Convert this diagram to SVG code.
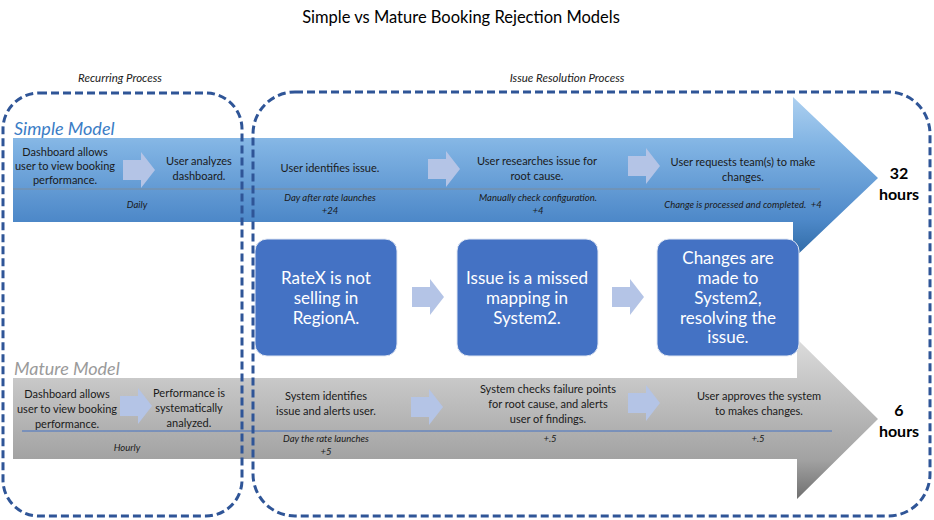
<svg xmlns="http://www.w3.org/2000/svg" xmlns:xlink="http://www.w3.org/1999/xlink" width="934" height="520" viewBox="0 0 934 520">
<style>
text{font-family:Lato,"Liberation Sans",sans-serif;fill:#1a1a1a;text-anchor:middle}
.title{font-size:16.5px;fill:#000}
.sec{font-size:11.5px;font-style:italic}
.model{font-size:18px;font-style:italic;text-anchor:start}
.t{font-size:11px}
.n{font-size:9.5px;font-style:italic}
.hrs{font-size:16px;font-weight:bold;fill:#000}
.bt{font-size:17px;fill:#fff}
.box{fill:#4472C4;stroke:#dfe6f3;stroke-width:1}
.blk{fill:#B4C4E6}
.dash{fill:none;stroke:#2F5597;stroke-width:3;stroke-dasharray:8 4}
</style>
<defs>
<linearGradient id="gBlue" gradientUnits="userSpaceOnUse" x1="0" y1="97" x2="0" y2="260">
<stop offset="0" stop-color="#ADD0F0"/>
<stop offset="0.3" stop-color="#80B3E3"/>
<stop offset="0.75" stop-color="#4E89C9"/>
<stop offset="1" stop-color="#2C67A2"/>
</linearGradient>
<linearGradient id="gGray" gradientUnits="userSpaceOnUse" x1="0" y1="339" x2="0" y2="500">
<stop offset="0" stop-color="#DCDCDC"/>
<stop offset="0.25" stop-color="#C8C8C8"/>
<stop offset="0.75" stop-color="#A2A2A2"/>
<stop offset="1" stop-color="#6E6E6E"/>
</linearGradient>
<path id="blk" d="M0,-10 H18 V-18 L32,0 L18,18 V10 H0 Z"/>
</defs>

<text class="title" x="461" y="23">Simple vs Mature Booking Rejection Models</text>
<text class="sec" x="120" y="82">Recurring Process</text>
<text class="sec" x="567" y="82">Issue Resolution Process</text>

<g id="simple-model">
<text class="model" x="14" y="135" style="fill:#3B7DC6">Simple Model</text>
<path d="M13,138 H793 V97 L878,178 L793,259 V222 H13 Z" fill="url(#gBlue)"/>
<line x1="13" y1="189" x2="820" y2="189" stroke="#7D8C9C" stroke-width="1"/>
<text class="t" x="65"><tspan x="65" y="156">Dashboard allows</tspan><tspan x="65" y="170">user to view booking</tspan><tspan x="65" y="184">performance.</tspan></text>
<text class="t" x="199"><tspan x="199" y="165">User analyzes</tspan><tspan x="199" y="180">dashboard.</tspan></text>
<text class="n" x="137" y="208">Daily</text>
<text class="t" x="330" y="172">User identifies issue.</text>
<text class="n" x="330"><tspan x="330" y="201">Day after rate launches</tspan><tspan x="330" y="214">+24</tspan></text>
<text class="t" x="537"><tspan x="537" y="165">User researches issue for</tspan><tspan x="537" y="180">root cause.</tspan></text>
<text class="n" x="538"><tspan x="538" y="201">Manually check configuration.</tspan><tspan x="538" y="214">+4</tspan></text>
<text class="t" x="743"><tspan x="743" y="166">User requests team(s) to make</tspan><tspan x="743" y="181">changes.</tspan></text>
<text class="n" x="743" y="208">Change is processed and completed.&#160; +4</text>
<text class="hrs" x="899"><tspan x="899" y="179">32</tspan><tspan x="899" y="200">hours</tspan></text>
</g>

<g id="mature-model">
<text class="model" x="14" y="375" style="fill:#9A9A9A">Mature Model</text>
<path d="M13,378 H797 V339 L878,419 L797,499 V459 H13 Z" fill="url(#gGray)"/>
<line x1="22" y1="431" x2="832" y2="431" stroke="#4472C4" stroke-width="1"/>
<text class="t" x="67"><tspan x="67" y="398">Dashboard allows</tspan><tspan x="67" y="413">user to view booking</tspan><tspan x="67" y="428">performance.</tspan></text>
<text class="t" x="189"><tspan x="189" y="397">Performance is</tspan><tspan x="189" y="412">systematically</tspan><tspan x="189" y="427">analyzed.</tspan></text>
<text class="n" x="127" y="451">Hourly</text>
<text class="t" x="326"><tspan x="326" y="400">System identifies</tspan><tspan x="326" y="415">issue and alerts user.</tspan></text>
<text class="n" x="326"><tspan x="326" y="442">Day the rate launches</tspan><tspan x="326" y="455">+5</tspan></text>
<text class="t" x="548"><tspan x="548" y="393">System checks failure points</tspan><tspan x="548" y="408">for root cause, and alerts</tspan><tspan x="548" y="423">user of findings.</tspan></text>
<text class="n" x="550" y="442">+.5</text>
<text class="t" x="759"><tspan x="759" y="400">User approves the system</tspan><tspan x="759" y="415">to makes changes.</tspan></text>
<text class="n" x="758" y="442">+.5</text>
<text class="hrs" x="899"><tspan x="899" y="416">6</tspan><tspan x="899" y="437">hours</tspan></text>
</g>

<g id="box-ratex">
<rect class="box" x="255" y="239" width="142" height="117" rx="12"/>
<text class="bt" x="326"><tspan x="326" y="284">RateX is not</tspan><tspan x="326" y="304">selling in</tspan><tspan x="326" y="324">RegionA.</tspan></text>
</g>
<g id="box-issue">
<rect class="box" x="457" y="239" width="141" height="117" rx="12"/>
<text class="bt" x="527"><tspan x="527" y="284">Issue is a missed</tspan><tspan x="527" y="304">mapping in</tspan><tspan x="527" y="324">System2.</tspan></text>
</g>
<g id="box-changes">
<rect class="box" x="657" y="239" width="142" height="117" rx="12"/>
<text class="bt" x="728"><tspan x="728" y="264">Changes are</tspan><tspan x="728" y="284">made to</tspan><tspan x="728" y="304">System2,</tspan><tspan x="728" y="324">resolving the</tspan><tspan x="728" y="343">issue.</tspan></text>
</g>

<g id="connectors">
<use href="#blk" class="blk" x="123" y="170"/>
<use href="#blk" class="blk" x="428" y="169"/>
<use href="#blk" class="blk" x="628" y="166"/>
<use href="#blk" class="blk" x="120" y="406"/>
<use href="#blk" class="blk" x="411" y="407"/>
<use href="#blk" class="blk" x="628" y="403"/>
<use href="#blk" class="blk" x="412" y="297"/>
<use href="#blk" class="blk" x="612" y="297"/>
</g>

<g id="recurring-process">
<rect class="dash" x="3" y="93" width="239" height="423" rx="36"/>
</g>
<g id="issue-resolution-process">
<rect class="dash" x="253" y="92" width="677" height="424" rx="42"/>
</g>
</svg>
